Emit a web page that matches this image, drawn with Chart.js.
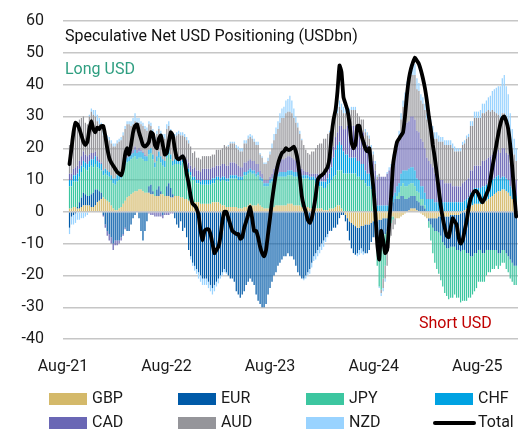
<!DOCTYPE html>
<html>
<head>
<meta charset="utf-8">
<script src="https://cdn.jsdelivr.net/npm/chart.js@4/dist/chart.umd.min.js"></script>
<style>
html,body{margin:0;padding:0;background:#fff;}
#c{display:block;}
</style>
</head>
<body>
<canvas id="c" width="518" height="432"></canvas>
<script>
// ---- categories: weekly observations starting 24 Aug 2021 (226 weeks) ----
const START = '2021-08-24';
const N_WEEKS = 226;
const TICK_LABELS = ['Aug-21','Aug-22','Aug-23','Aug-24','Aug-25'];
const TICK_DATES = ['2021-08-01','2022-08-01','2023-08-01','2024-08-01','2025-08-01'];

// ---- series values (USD bn, positive = long USD vs that currency) ----
const GBP = [1,1,1.5,1.5,1,1,1.5,2,2,2, 2,1.5,1.5,2,3,3.5,4,4.5,4,3.5, 3,2,1,0.5,0.5,1,1.5,2.5,3.5,4.5,
 5,5.5,6,6.5,6.5,7,7,6.5,6,6, 6,5.5,5.5,5,5,5,5.5,5.5,5,5, 5,4.5,4.5,5,5,5,4.5,4.5,4,4,
 3.5,3.5,3,3,3,3,2.5,2.5,2.5,2.5, 2.5,2.5,3,3,3,3,2.5,2,2,1.5, 1.5,1.5,1.5,1.5,1.5,1,1,1,1.5,1.5,
 2,2.5,2,2,2,2.5,2,1.5,1,1, 1,1,1.5,1.5,2,2,2,2,2,2, 2.5,2.5,2.5,2,2,2,2,1.5,1.5,1.5,
 1.5,1,1,1,1,1,1,1,0.5,0.5, 0.5,1,1,1,1.5,2,2,1,0,-1, -2,-3,-3.5,-4,-4.5,-5,-5,-4.5,-4.5,-4,
 -4,-4,-3.5,-3,-3,-3,-2.5,-2.5,-2,-2, -2,-1.5,-1.5,-1.5,-2,-2,-2,-1.5,-1,-0.5, 0,0.5,1,1,1,0.5,0,-0.5,-1,-1.5,
 -2,-2,-2,-2,-2,-2,-1.5,-1.5,-1.5,-1.5, -1.5,-1.5,-1,-1,-1,-1,-1,-0.5,0,0.5, 1,1.5,2,2,2.5,2.5,2.5,2.5,3,3,
 3.5,4,4.5,5,5.5,6,6.5,6.5,7,7, 6.5,6,5,4,3,2];
const EUR = [-5,-1.5,-1,-0.5,0.5,2,3,4,3.5,3, 3,4,4.5,5,4,3,2,-1,-4,-6, -7,-8,-10,-9,-9,-9,-8,-7,-5,-6,
 -6,-4,-2,-1,0,-2,-6,-9,-6,-3, 2,3,1,0,2,3,1,-1,0,3, 4,3,1,-2,-4,-5,-3,-6,-5,-8,
 -12,-14,-16,-17,-18,-19,-20,-21,-21,-21, -22,-23,-24,-23,-22,-21,-20,-19,-18,-19, -20,-21,-21,-22,-25,-26,-27,-26,-25,-23,
 -22,-21,-22,-23,-26,-28,-29,-30,-30,-29, -26,-24,-22,-20,-19,-17,-16,-15,-14,-14, -13,-14,-14,-15,-17,-19,-20,-21,-21,-20,
 -19,-18,-16,-14,-13,-12,-11,-10,-9,-8, -7,-6,-6,-5,-5,-4,-2,-1,-1,-2, -4,-6,-8,-9,-9,-8,-7,-7,-8,-9,
 -9,-8,-6,-5,-5,-6,-7,-7,-6,-5, -4,-2,1,3,4,4,4,5,5,4, 4,4,4,4,4,3,3,2,2,1,
 0,-1,-2,-3,-4,-4,-5,-6,-8,-9, -10,-10,-10,-10,-10,-11,-11,-12,-12,-12, -13,-13,-14,-14,-13,-13,-12,-12,-13,-13,
 -12,-12,-12,-12,-12,-12,-13,-13,-12,-12, -13,-14,-15,-16,-17,-17];
const JPY = [7,7,8,8,8,8,8,8,8,8, 9,9,8,8,7,7,7,7,8,8, 8,8,8,8,9,9,9,10,11,11,
 11,11,11,11,10,10,10,10,10,10, 10,10,10,9,9,9,9,9,9,9, 9,9,9,10,10,10,10,11,11,10,
 9,8,7,7,6,6,6,6,6,6, 6,6,6,6,7,7,7,8,8,8, 8,9,9,9,9,9,9,9,10,10,
 10,10,10,10,9,9,8,8,7,7, 7,8,8,9,9,9,9,9,9,9, 9,9,9,9,9,9,9,9,9,9,
 9,9,9,9,8,8,7,7,7,7, 8,8,9,10,10,11,11,12,12,12, 12,12,12,12,12,11,11,10,10,9,
 8,8,7,6,3,-8,-14,-15,-13,-10, -6,-3,-2,-1,0,1,2,3,4,4, 4,4,4,4,3,3,3,2,2,1,
 0,-2,-5,-8,-10,-12,-13,-14,-14,-15, -15,-16,-16,-16,-15,-15,-15,-16,-16,-16, -15,-14,-13,-12,-12,-11,-10,-10,-9,-9,
 -8,-7,-7,-6,-6,-5,-5,-4,-4,-4, -5,-5,-6,-6,-6,-6];
const CHF = [2,2,2,2,2.5,2.5,2,2,2,2, 2,2,2.5,2.5,2,2,2,1.5,1.5,1.5, 1.5,1.5,1.5,2,2,2,2,1.5,1.5,1.5,
 1.5,1.5,1.5,2,2,2,2,2,1.5,1.5, 1.5,1.5,1.5,1.5,1.5,2,2,2,2,2, 2,1.5,1.5,1.5,1.5,1.5,1.5,1,1,1,
 1,1,1,1,1,1,1,1.5,1.5,1.5, 1.5,1.5,1.5,1.5,1,1,1,1,1,1, 1,1,1,1,1,1,1,1,1,1,
 1,1,1,1,1,1,1,1,1,1, 1,1,1,1,1,1,1.5,1.5,1.5,1.5, 1.5,1.5,1.5,1.5,1.5,1.5,1,1,1,1,
 1,1,1,1,1.5,1.5,1.5,1.5,2,2, 2,3,4,6,8,8,9,8,7,6, 6,5,5,5,5,5,5,5,5,4,
 4,4,4,3,3,2,2,2,2,2, 2,2,2,2,2,3,3,4,4,5, 5,5,5,5,5,4,4,4,4,4,
 4,4,4,4,3,3,3,3,3,3, 3,3,3,3,3,3,3,3,3,3, 3,3,4,4,5,5,5,5,5,5,
 5,5,5,5,5,5,5,4,4,4, 4,4,3,3,3,3];
const CAD = [2,2,2,2.5,2.5,2.5,3,3,2.5,2.5, 2,2,2,1.5,1.5,1,0.5,-0.5,-1,-1.5, -2,-2,-2,-1.5,-1.5,-1,-1,-0.5,-0.5,0.5,
 1,1,1,1,1,1,0.5,0.5,0.5,0, -0.5,-1,-1,-1.5,-1.5,-1.5,-1.5,-1,-1,-1, -1,-0.5,-0.5,0,0.5,1,1,1.5,1.5,1.5,
 2,2,2.5,3,3,3,3,3.5,3.5,3.5, 3.5,3.5,3.5,3.5,3.5,3.5,4,4,4,4, 4,4,4,4,3.5,3.5,3,3,3,3,
 3,3,3,3,3,2.5,2,1.5,1,1, 1,1,1.5,2,2.5,3,3.5,4,4,4.5, 4.5,4.5,4,4,3.5,3,2.5,2,1.5,1,
 1,1,1,1,1.5,1.5,2,2,2.5,2.5, 3,3,3.5,3.5,4,4,5,6,7,8, 9,9,10,10,10,10,10,10,10,9,
 9,8,7,7,7,8,9,9,9,9, 10,11,11,12,12,12,13,13,14,14, 15,15,16,16,16,15,15,15,14,14,
 13,12,11,10,9,8,7,7,7,6, 6,6,6,5,5,5,5,5,6,6, 6,6,7,7,7,7,7,7,8,8,
 8,8,8,8,8,8,8,8,9,9, 8,8,7,6,5,5];
const AUD = [9,11,12,13,13,13,12,11,10,10, 12,13,12,11,11,11,11,11,11,10, 10,10,10,10,10,10,10,10,10,10,
 9,8,8,8,8,8,8,8,8,8, 8,7,7,7,7,7,7,7,7,7, 7,7,7,7,7,7,7,6,6,6,
 6,6,5,5,4,4,4,4,4,4, 4,4,4,4,5,5,5,5,6,6, 6,6,6,6,5,5,5,5,6,6,
 7,7,7,6,6,6,5,5,5,5, 6,7,8,9,10,11,12,13,13,14, 14,14,14,13,12,11,10,9,8,7,
 6,6,7,7,8,9,10,10,11,11, 11,10,9,8,7,6,6,5,5,5, 5,5,5,5,5,5,4,4,4,3,
 3,3,2,2,2,1,1,-1,-3,-4, -5,-5,-4,-3,-2,0,2,4,6,8, 10,11,13,13,14,13,13,12,12,12,
 12,12,12,11,11,12,12,12,12,12, 12,12,12,12,11,11,11,11,12,12, 13,13,14,14,15,15,15,15,15,15,
 15,15,14,14,13,12,11,11,11,11, 10,9,8,7,7,6];
const NZD = [-2,-2.5,-3,-3,-2.5,-2.5,-2,-2,-1.5,-1, 0.5,1,1.5,2,2,2,1.5,1.5,1,1, 1,1,1,1,1,1,1,1,1,1,
 1,1.5,2,2.5,2,1.5,1,1,1,1, 1,1,1,1,1,1,1,1,1.5,1.5, 1.5,1,1,1,1,1,1,1,1,1,
 1,-1,-1,-1.5,-1.5,-2,-2,-2,-2,-2, -2,-2,-2,-2,-1.5,-1.5,-1,-1,-1,-0.5, 0.5,0.5,0.5,0.5,1,1,1,1,1,1,
 1,1,1,1,1,1,0.5,0.5,0.5,0.5, 1,1,1.5,2,2,2.5,3,3,3.5,4, 4,5,4,3,2,1.5,1,0.5,-0.5,-1,
 -1,-1.5,-1.5,-1.5,-2,-2,-2,-2,-2,-1.5, -1,0.5,1,1.5,2,2,2,2,2,1.5, 1.5,1.5,1,1,1,-1,-1.5,-1.5,-1,1,
 1,1,1,1,1,0.5,-0.5,-1,-1,-1, 0.5,1,1,1,1,1,1.5,2,2,2.5, 3,3,3.5,3.5,3.5,3.5,2.5,2,2,2,
 2,2,2,2,2,2,2,1.5,1.5,1.5, 1.5,1.5,1.5,1.5,1.5,1,1,1,1,1, 1,1,1.5,1.5,2,2,2,2.5,3,3,
 3.5,4,5,6,7,8,9,10,11,12, 11,10,8,6,5,4];
const TOTAL = [15,20,25,28,27.5,26,24,22,21,22, 26,28.5,26,25,26.5,26,27,27,24,20, 17,15.5,14.5,13.5,12.5,12,11.5,13.5,18,20,
 18,21,25,27,27.5,25,23,21,20.5,21, 22,25,24.5,21,20,23,24,21,18,18.5, 22,25,24,20,17,16.5,17,17.5,16,12,
 9,5,2.5,2,1,-1,-6,-9,-6,-5.5, -5.5,-7,-10,-13,-12,-11,-8,-3,0,0, -2,-4,-6,-6.5,-7,-7,-8.5,-8,-5,-3,
 -1,1.5,-2,-6,-6,-8,-11,-13,-14,-12, -7,-2,3.5,8,12,15,17,18.5,19,20, 19.5,19.5,20,20.5,19,16,11,5,2,0,
 -2.5,-3.5,-2,1,5,10,11,11.5,12,13, 14,17,24,29,32,38,46,44,36,34, 32,28,22,20,21,27,27,24,22,20,
 19,20,14,8,0,-10,-15,-6,-9,-13, -12,-4,5,15,19,22,23,24,25,30, 37,42,45,47,48.5,47.5,46.5,44.5,42,39,
 35,30,26,21,17,12,7,2,-2,-5, -7.5,-8,-5,-2,-3,-4,-8,-10,-9,-6, -3,1,4,5.5,6.5,6.5,5.5,4,3,4,
 5.5,7,10,14,17.5,21,24.5,27.5,29.5,30, 28.5,26,21,14,6,-1.5];

// ---- build positions (weeks since 1 Aug 2021) ----
const DAY = 86400000, WEEK = 7 * DAY;
const ORIGIN = Date.parse(TICK_DATES[0]);
const firstWeek = (Date.parse(START) - ORIGIN) / WEEK;
const weekPos = [];
for (let i = 0; i < N_WEEKS; i++) weekPos.push(firstWeek + i);
const tickPos = TICK_DATES.map(d => (Date.parse(d) - ORIGIN) / WEEK);

const FONT = 'Roboto, "Liberation Sans", Arial, sans-serif';
const series = [
  {label:'GBP', data:GBP, color:'#D4B96A'},
  {label:'EUR', data:EUR, color:'#005AA8'},
  {label:'JPY', data:JPY, color:'#3CC6A0'},
  {label:'CHF', data:CHF, color:'#00A2E2'},
  {label:'CAD', data:CAD, color:'#6A67B5'},
  {label:'AUD', data:AUD, color:'#95959A'},
  {label:'NZD', data:NZD, color:'#99D3FF'}
];
const pts = arr => arr.map((v, i) => ({x: weekPos[i], y: v}));

const datasets = series.map(s => ({
  type: 'bar', label: s.label, data: pts(s.data),
  backgroundColor: s.color, borderWidth: 0,
  barPercentage: 0.62, categoryPercentage: 1, order: 1
}));
datasets.push({
  type: 'line', label: 'Total', data: pts(TOTAL), stack: 'total',
  borderColor: '#000', borderWidth: 3.8, pointRadius: 0, tension: 0.15,
  borderJoinStyle: 'round', borderCapStyle: 'round', fill: false, order: 0
});

const annot = {
  id: 'annot',
  afterDraw(chart) {
    const c = chart.ctx, a = chart.chartArea;
    c.save();
    c.textBaseline = 'middle';
    c.textAlign = 'left';
    c.font = '16px ' + FONT;
    c.fillStyle = '#111';
    c.fillText('Speculative Net USD Positioning (USDbn)', a.left + 2, 37);
    c.fillStyle = '#2E9E80';
    c.fillText('Long USD', a.left + 2, 70);
    c.fillStyle = '#C00000';
    c.fillText('Short USD', 419, 324);
    // legend
    const cols = [49, 178, 306, 435], rows = [399, 423];
    const items = series.map(s => ({label: s.label, color: s.color, line: false}));
    items.push({label: 'Total', color: '#000', line: true});
    items.forEach((it, k) => {
      const x = cols[k % 4], y = rows[Math.floor(k / 4)];
      if (it.line) {
        c.strokeStyle = '#000'; c.lineWidth = 4; c.lineCap = 'round';
        c.beginPath(); c.moveTo(x, y); c.lineTo(x + 39, y); c.stroke();
      } else {
        c.fillStyle = it.color; c.fillRect(x, y - 6, 38, 12);
      }
      c.fillStyle = '#1a1a1a';
      c.fillText(it.label, x + 43, y);
    });
    c.restore();
  }
};

new Chart(document.getElementById('c'), {
  type: 'bar',
  data: { datasets },
  options: {
    responsive: false, animation: false, devicePixelRatio: 1,
    layout: { autoPadding: false, padding: { top: 21, right: 0, bottom: 0, left: 0 } },
    plugins: { legend: { display: false }, tooltip: { enabled: false } },
    scales: {
      x: {
        type: 'linear', min: 0, max: 229.2, stacked: true, offset: false,
        grid: { display: false, drawTicks: false }, border: { display: false },
        afterBuildTicks: s => { s.ticks = tickPos.map(v => ({ value: v })); },
        afterFit: s => { s.height = 93; s.paddingLeft = 0; s.paddingRight = 0; },
        ticks: { autoSkip: false, maxRotation: 0, padding: 18, color: '#1a1a1a',
          font: { family: FONT, size: 16 }, callback: (v, i) => TICK_LABELS[i] }
      },
      y: {
        stacked: true, min: -40, max: 60,
        grid: { color: '#c6c6c6', lineWidth: 1.4, drawTicks: false }, border: { display: false },
        afterFit: s => { s.width = 63; s.paddingTop = 0; s.paddingBottom = 0; },
        ticks: { stepSize: 10, padding: 19, color: '#1a1a1a', font: { family: FONT, size: 16 } }
      }
    }
  },
  plugins: [annot]
});
</script>
</body>
</html>
